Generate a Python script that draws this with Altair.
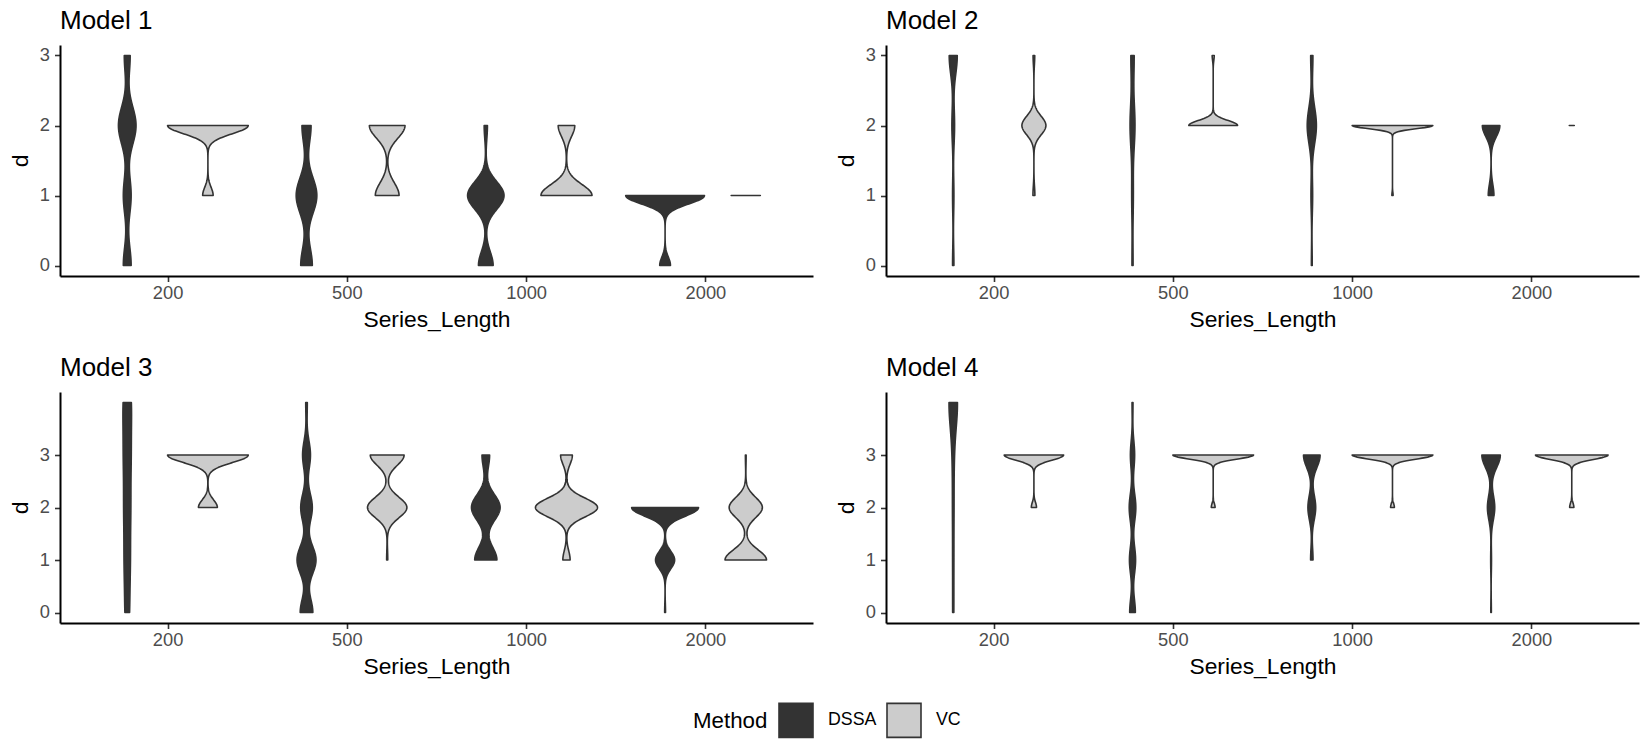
import altair as alt
import pandas as pd

LENGTHS = ["200", "500", "1000", "2000"]
METHODS = ["DSSA", "VC"]
D_LEVELS = [0, 1, 2, 3, 4]
MODELS = ["Model 1", "Model 2", "Model 3", "Model 4"]
Y_TICKS = [0, 1, 2, 3]

# replication counts at d = 0,1,2,3,4 ; one list per series length (200, 500, 1000, 2000)
M1_DSSA = [[40, 40, 90, 30, 0], [56, 100, 44, 0, 0], [54, 134, 12, 0, 0], [24, 176, 0, 0, 0]]
M1_VC = [[0, 23, 177, 0, 0], [0, 80, 120, 0, 0], [0, 151, 49, 0, 0], [0, 200, 0, 0, 0]]
M2_DSSA = [[20, 20, 40, 120, 0], [20, 30, 90, 60, 0], [12, 24, 132, 32, 0], [0, 49, 151, 0, 0]]
M2_VC = [[0, 14, 174, 12, 0], [0, 0, 192, 8, 0], [0, 3, 197, 0, 0], [0, 0, 200, 0, 0]]
M3_DSSA = [[28, 36, 40, 44, 52], [48, 72, 44, 30, 6], [0, 76, 98, 26, 0], [2, 44, 154, 0, 0]]
M3_VC = [[0, 0, 38, 162, 0], [0, 3, 106, 91, 0], [0, 18, 153, 29, 0], [0, 110, 88, 2, 0]]
M4_DSSA = [[16, 16, 20, 24, 124], [48, 52, 56, 36, 8], [0, 18, 58, 124, 0], [4, 6, 54, 136, 0]]
M4_VC = [[0, 0, 16, 184, 0], [0, 0, 9, 191, 0], [0, 0, 9, 191, 0], [0, 0, 11, 189, 0]]

MODEL_DATA = [(M1_DSSA, M1_VC), (M2_DSSA, M2_VC), (M3_DSSA, M3_VC), (M4_DSSA, M4_VC)]

FONT = "Liberation Sans"
DODGE = 0.225  # half of dodge width 0.9 / 2 groups
PW, PH = 753, 231


def expand(dssa, vc):
    rows = []
    for method, table in zip(METHODS, (dssa, vc)):
        for i, counts in enumerate(table):
            for d, c in zip(D_LEVELS, counts):
                rows.extend([{"Method": method, "idx": i + 1, "d": d}] * c)
    return pd.DataFrame(rows)


label_expr = "[" + ",".join(f"'{s}'" for s in LENGTHS) + "][datum.value - 1]"


def panel(k):
    dssa, vc = MODEL_DATA[k]
    df = expand(dssa, vc)
    ymin, ymax = int(df["d"].min()), int(df["d"].max())
    span = ymax - ymin
    return (
        alt.Chart(df, title=alt.TitleParams(MODELS[k], anchor="start", frame="group",
                                            fontSize=26, font=FONT, fontWeight="normal",
                                            color="black", offset=11))
        .transform_joinaggregate(dmin="min(d)", dmax="max(d)", groupby=["Method", "idx"])
        .transform_density("d", groupby=["Method", "idx", "dmin", "dmax"], steps=100 * span,
                           as_=["d", "density"])
        .transform_filter("datum.d >= datum.dmin - 1e-6 && datum.d <= datum.dmax + 1e-6")
        .transform_joinaggregate(maxd="max(density)")
        .transform_calculate(
            center=f"datum.idx + (datum.Method == 'DSSA' ? {-DODGE} : {DODGE})",
            half=f"{DODGE} * datum.density / datum.maxd",
        )
        .transform_calculate(left="datum.center - datum.half", right="datum.center + datum.half")
        .mark_area(orient="horizontal", stroke="#333333", strokeWidth=1.6, strokeJoin="round")
        .encode(
            y=alt.Y("d:Q", scale=alt.Scale(domain=[ymin - 0.05 * span, ymax + 0.05 * span],
                                           nice=False, zero=False),
                    axis=alt.Axis(values=Y_TICKS, title="d")),
            x=alt.X("left:Q", scale=alt.Scale(domain=[0.4, 4.6], nice=False, zero=False),
                    axis=alt.Axis(values=[1, 2, 3, 4], labelExpr=label_expr, title="Series_Length")),
            x2="right:Q",
            fill=alt.Fill("Method:N", scale=alt.Scale(domain=METHODS, range=["#333333", "#CCCCCC"]),
                          legend=alt.Legend(title="Method", orient="none", direction="horizontal",
                                            legendX=633, legendY=657, titleOrient="left",
                                            titleAnchor="middle", titleBaseline="middle")),
            detail="idx:N",
        )
        .properties(width=PW, height=PH)
    )


chart = (
    alt.vconcat(
        alt.hconcat(panel(0), panel(1), spacing=22),
        alt.hconcat(panel(2), panel(3), spacing=22),
        spacing=23,
    )
    .properties(padding={"left": 9, "top": 8, "right": 5, "bottom": 5})
    .configure_view(strokeWidth=0)
    .configure_axis(
        grid=False, labelFont=FONT, titleFont=FONT, labelFontSize=18.3, labelColor="#4D4D4D",
        titleFontSize=22.8, titleColor="black", titleFontWeight="normal",
        domainColor="black", domainWidth=2, tickColor="#333333", tickWidth=1.6, tickSize=5.5,
    )
    .configure_axisX(labelPadding=3, titlePadding=7)
    .configure_axisY(labelPadding=5, titlePadding=7)
    .configure_legend(
        titleFont=FONT, labelFont=FONT, titleFontSize=22.3, labelFontSize=17.8, padding=0,
        titleColor="black", labelColor="black", titleFontWeight="normal",
        symbolType="square", symbolSize=1156, symbolStrokeColor="#333333",
        symbolStrokeWidth=1.6, symbolOpacity=1, labelOffset=14, columnPadding=6, titlePadding=10,
    )
)

chart.save("out.html", embed_options={"renderer": "svg", "actions": False})
